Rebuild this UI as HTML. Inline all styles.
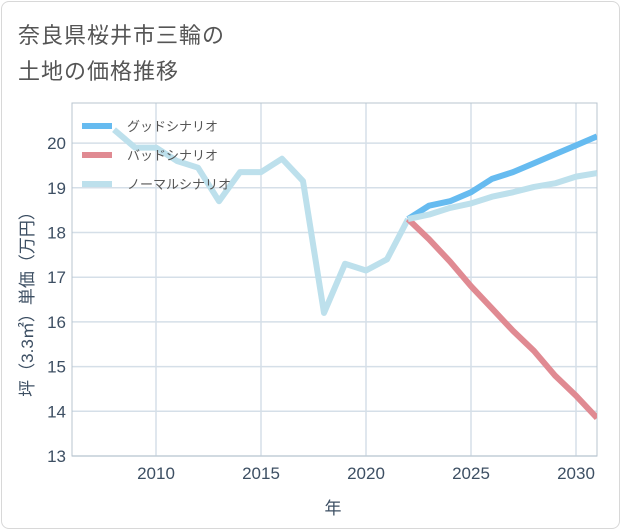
<!DOCTYPE html>
<html><head><meta charset="utf-8"><style>
body{margin:0;background:#fff;font-family:"Liberation Sans","Noto Sans CJK JP",sans-serif}
#card{position:absolute;left:1px;top:1px;width:617px;height:526px;border:1px solid #d8d8d8;border-radius:8px;background:#fff}
.t{position:absolute;left:18px;font-size:22px;color:#555;letter-spacing:1px}
</style></head><body>
<div id="card"></div>
<div class="t" style="top:18px">奈良県桜井市三輪の</div>
<div class="t" style="top:54px">土地の価格推移</div>
<svg id="c" width="621" height="530" style="position:absolute;left:0;top:0"></svg>
<script>
const years=[2008,2009,2010,2011,2012,2013,2014,2015,2016,2017,2018,2019,2020,2021,2022];
const hist=[20.3,19.9,19.9,19.6,19.45,18.7,19.35,19.35,19.65,19.15,16.2,17.3,17.15,17.4,18.3];
const fyears=[2022,2023,2024,2025,2026,2027,2028,2029,2030,2031];
const good=[18.3,18.6,18.7,18.9,19.2,19.35,19.55,19.75,19.95,20.15];
const bad=[18.3,17.85,17.35,16.8,16.3,15.8,15.35,14.8,14.35,13.85];
const normal=[18.3,18.4,18.55,18.65,18.8,18.9,19.02,19.1,19.25,19.33];
const yTicks=[13,14,15,16,17,18,19,20];
const xTicks=[2010,2015,2020,2025,2030];
const L=72,R=597,T=103,B=456;
const X=y=>156+(y-2010)*21;
const Y=v=>456-(v-13)*44.7;
const s=document.getElementById('c');const NS='http://www.w3.org/2000/svg';
const TC='#3d4f63';
function el(t,a,p){const e=document.createElementNS(NS,t);for(const k in a)e.setAttribute(k,a[k]);(p||s).appendChild(e);return e;}
const defs=el('defs',{});const cp=el('clipPath',{id:'cp'},defs);el('rect',{x:L,y:T,width:R-L,height:B-T},cp);
yTicks.forEach(v=>{const g=el('line',{x1:L,x2:R,y1:Y(v),y2:Y(v),stroke:'#d5dfe8','stroke-width':1.5});

const t=el('text',{x:L-6,y:Y(v)+6,'text-anchor':'end','font-size':17,fill:TC});t.textContent=v;
});
xTicks.forEach(v=>{const g=el('line',{x1:X(v),x2:X(v),y1:T,y2:B,stroke:'#d5dfe8','stroke-width':1.5});

const t=el('text',{x:X(v),y:B+23,'text-anchor':'middle','font-size':17,fill:TC});t.textContent=v;
});
const fr=el('rect',{x:L,y:T,width:R-L,height:B-T,fill:'none',stroke:'#b8c4cf','stroke-width':1});

const xt=el('text',{x:333,y:514,'text-anchor':'middle','font-size':17,fill:TC});xt.textContent='年';

const yt=el('text',{x:0,y:0,'text-anchor':'middle','font-size':17,fill:TC,transform:'translate(33,300) rotate(-90)'});yt.textContent='坪（3.3㎡）単価（万円）';

function line(xs,vs,c,n){const p=el('polyline',{points:xs.map((x,i)=>X(x)+','+Y(vs[i])).join(' '),fill:'none',stroke:c,'stroke-width':6,'stroke-linejoin':'round','clip-path':'url(#cp)'});
}
line(years,hist,'#bde0ec','normal-history-line');
line(fyears,bad,'#e08a92','bad-scenario-line');
line(fyears,good,'#66bbf0','good-scenario-line');
line(fyears,normal,'#bde0ec','normal-scenario-line');
[['グッドシナリオ','#66bbf0','legend-good'],['バッドシナリオ','#e08a92','legend-bad'],['ノーマルシナリオ','#bde0ec','legend-normal']].forEach((d,i)=>{
const y=126+i*29;const g=el('g',{});
el('line',{x1:82,x2:112,y1:y,y2:y,stroke:d[1],'stroke-width':6},g);
const t=el('text',{x:127,y:y+5,'font-size':13,fill:'#555'},g);t.textContent=d[0];});
</script>
</body></html>
